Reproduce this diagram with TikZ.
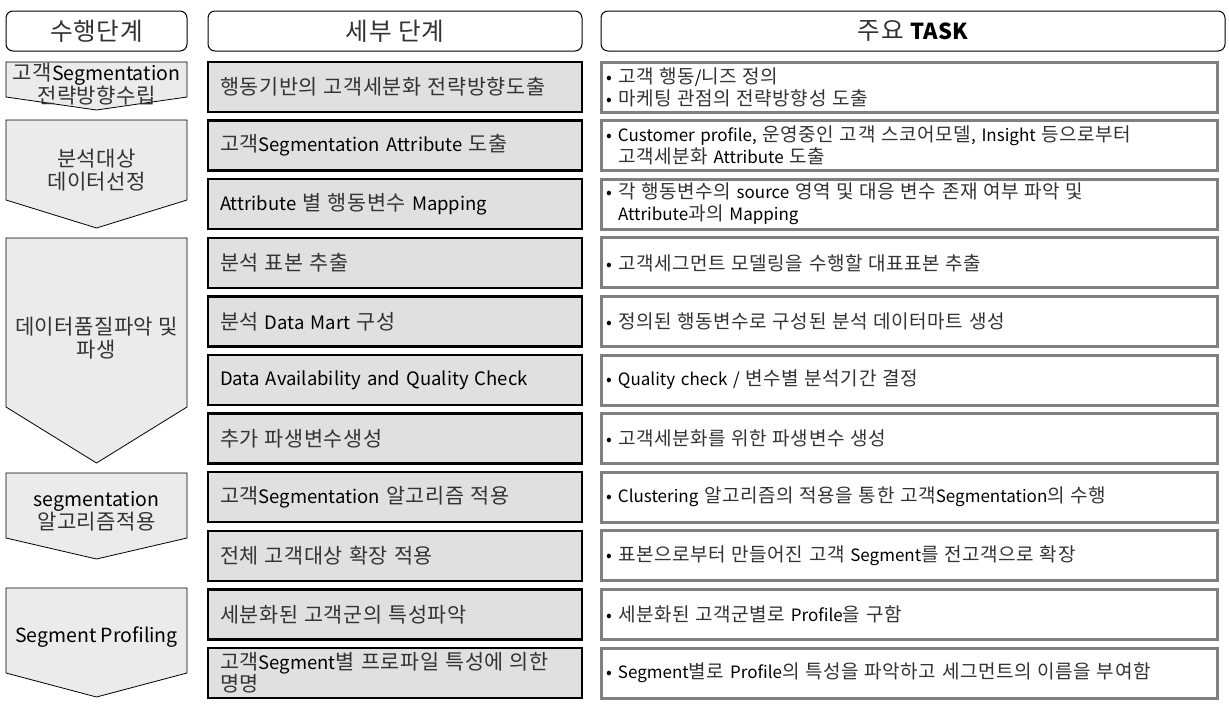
\documentclass[tikz,border=0pt]{standalone}
\usepackage{fontspec}
\setmainfont{Noto Sans CJK KR}
\newfontfamily\latfont{Noto Sans CJK KR}
\newfontfamily\krwide[Scale=1.12,LetterSpace=3,Color=333333]{Noto Sans CJK KR}
\newfontfamily\krmid[Scale=1.08,LetterSpace=2,Color=333333]{Noto Sans CJK KR}
\let\krsel\krwide
% Hangul gets its own font
\newXeTeXintercharclass\HangulClass
\count255="AC00
\loop
  \XeTeXcharclass\count255=\HangulClass
  \advance\count255 by 1
\ifnum\count255<"D7A4 \repeat
\XeTeXinterchartoks 0 \HangulClass = {\krsel}
\XeTeXinterchartoks 4095 \HangulClass = {\krsel}
\XeTeXinterchartoks \HangulClass 0 = {\latfont}
\XeTeXinterchartoks 4095 0 = {\latfont}
\usetikzlibrary{positioning}
\definecolor{stepgray}{HTML}{E0E0E0}
\definecolor{phasegray}{HTML}{EBEBEB}
\definecolor{taskline}{HTML}{808080}
\newcommand{\bul}{\makebox[12pt][l]{•}}
\newcommand{\ind}{\hspace*{12pt}}
\tikzset{
  headbox/.style={draw, rounded corners=7pt, line width=1pt, outer sep=0pt, fill=white, minimum height=40pt, font=\fontsize{22}{24}\selectfont},
  stepbox/.style={draw, line width=2.5pt, outer sep=0pt, fill=stepgray, minimum height=50pt, text width=350pt, inner xsep=12pt, inner ysep=1pt, align=left, font=\fontsize{18.5}{22}\selectfont},
  taskbox/.style={draw=taskline, line width=3pt, outer sep=0pt, fill=white, minimum height=50pt, text width=606pt, inner xsep=5pt, inner ysep=1pt, align=left, font=\fontsize{17}{22}\selectfont},
  phase/.style={draw, line width=0.8pt, fill=phasegray},
  phasetext/.style={align=center, font=\fontsize{19.5}{23}\selectfont\let\krsel\krmid}
}
\begin{document}
\XeTeXinterchartokenstate=1
\begin{tikzpicture}[x=1pt, y=-1pt, node distance=8.6pt]
      \useasboundingbox (0,0) rectangle (1229,704);
      % header
      \node[headbox, minimum width=181pt] (h1) at (96.5,31) {수행단계};
      \node[headbox, minimum width=374pt] (h2) at (395,31) {세부 단계};
      \node[headbox, minimum width=624pt] (h3) at (913,31) {주요 \textbf{TASK}};
      % phases
      \draw[phase] (6,62) -- (187,62) -- (187,97) -- (96.5,110) -- (6,97) -- cycle;
      \draw[phase] (6,120) -- (187,120) -- (187,200) -- (96.5,228) -- (6,200) -- cycle;
      \draw[phase] (6,238) -- (187,238) -- (187,407) -- (96.5,463) -- (6,407) -- cycle;
      \draw[phase] (6,473) -- (187,473) -- (187,538) -- (96.5,559) -- (6,538) -- cycle;
      \draw[phase] (6,588) -- (187,588) -- (187,673) -- (96.5,697) -- (6,673) -- cycle;
      \node[phasetext] (p1) at (96.5,84) {고객Segmentation\\전략방향수립};
      \node[phasetext] (p2) at (96.5,170) {분석대상\\데이터선정};
      \node[phasetext] (p3) at (96.5,338.5) {데이터품질파악 및\\파생};
      \node[phasetext] (p4) at (96.5,511.5) {segmentation\\알고리즘적용};
      \node[phasetext] (p5) at (96.5,637) {Segment Profiling};
      % steps
      \node[stepbox] (s1) at (395,87) {행동기반의 고객세분화 전략방향도출};
      \node[stepbox, below=of s1] (s2) {고객Segmentation Attribute 도출};
      \node[stepbox, below=of s2] (s3) {Attribute 별 행동변수 Mapping};
      \node[stepbox, below=of s3] (s4) {분석 표본 추출};
      \node[stepbox, below=of s4] (s5) {분석 Data Mart 구성};
      \node[stepbox, below=of s5] (s6) {Data Availability and Quality Check};
      \node[stepbox, below=of s6] (s7) {추가 파생변수생성};
      \node[stepbox, below=of s7] (s8) {고객Segmentation 알고리즘 적용};
      \node[stepbox, below=of s8] (s9) {전체 고객대상 확장 적용};
      \node[stepbox, below=of s9] (s10) {세분화된 고객군의 특성파악};
      \node[stepbox, below=of s10] (s11) {고객Segment별 프로파일 특성에 의한\\명명};
      % tasks
      \node[taskbox, right=19pt of s1] (t1) {\bul 고객 행동/니즈 정의\\\bul 마케팅 관점의 전략방향성 도출};
      \node[taskbox, right=19pt of s2] (t2) {\bul Customer profile, 운영중인 고객 스코어모델, Insight 등으로부터\\\ind 고객세분화 Attribute 도출};
      \node[taskbox, right=19pt of s3] (t3) {\bul 각 행동변수의 source 영역 및 대응 변수 존재 여부 파악 및\\\ind Attribute과의 Mapping};
      \node[taskbox, right=19pt of s4] (t4) {\bul 고객세그먼트 모델링을 수행할 대표표본 추출};
      \node[taskbox, right=19pt of s5] (t5) {\bul 정의된 행동변수로 구성된 분석 데이터마트 생성};
      \node[taskbox, right=19pt of s6] (t6) {\bul Quality check / 변수별 분석기간 결정};
      \node[taskbox, right=19pt of s7] (t7) {\bul 고객세분화를 위한 파생변수 생성};
      \node[taskbox, right=19pt of s8] (t8) {\bul Clustering 알고리즘의 적용을 통한 고객Segmentation의 수행};
      \node[taskbox, right=19pt of s9] (t9) {\bul 표본으로부터 만들어진 고객 Segment를 전고객으로 확장};
      \node[taskbox, right=19pt of s10] (t10) {\bul 세분화된 고객군별로 Profile을 구함};
      \node[taskbox, right=19pt of s11] (t11) {\bul Segment별로 Profile의 특성을 파악하고 세그먼트의 이름을 부여함};
\end{tikzpicture}
\end{document}
